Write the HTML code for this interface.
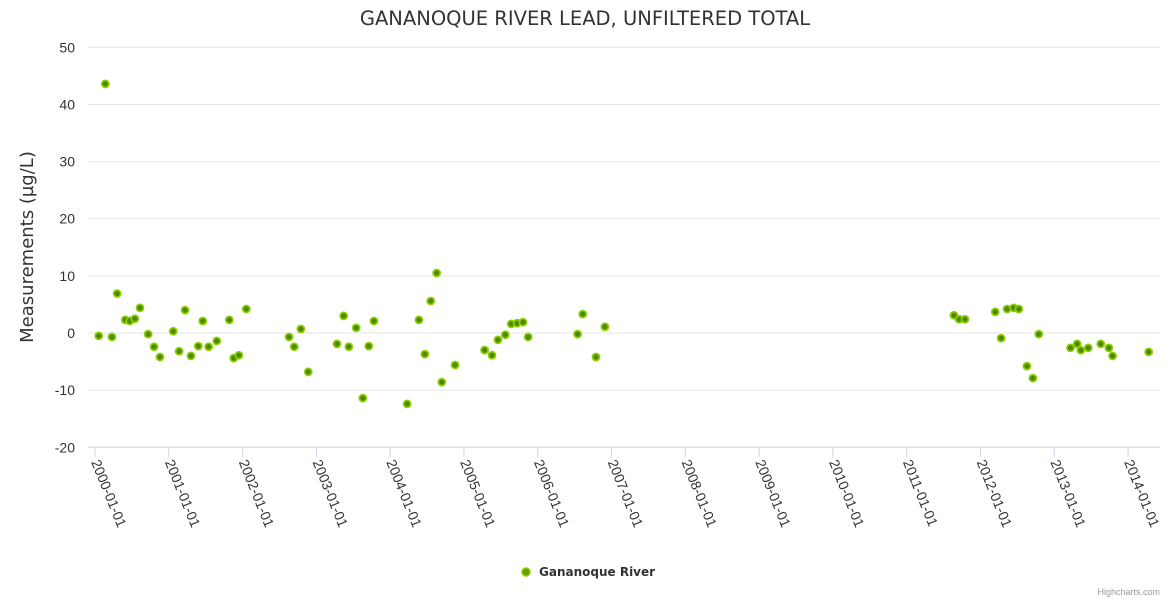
<!DOCTYPE html>
<html><head><meta charset="utf-8"><style>
html,body{margin:0;padding:0;background:#fff;}
svg{display:block;font-family:"Liberation Sans","DejaVu Sans",sans-serif;}
</style></head><body>
<svg id="chart" width="1170" height="600">
<text x="585" y="25" text-anchor="middle" font-size="19.5" fill="#333" style="font-family:'DejaVu Sans',sans-serif">GANANOQUE RIVER LEAD, UNFILTERED TOTAL</text>
<text transform="translate(33,247) rotate(-90)" text-anchor="middle" font-size="18" fill="#333" style="font-family:'DejaVu Sans',sans-serif">Measurements (µg/L)</text>
<g id="grid"></g><g id="xaxis"></g><g id="pts"></g>
<g>
<circle cx="526" cy="572" r="4" style="fill:#68a000;stroke:#8fcc00;stroke-width:1.5"></circle>
<text x="539" y="576" font-size="12" font-weight="bold" fill="#333" style="font-family:'DejaVu Sans',sans-serif">Gananoque River</text>
</g>
<text x="1160" y="595" text-anchor="end" font-size="9" fill="#999">Highcharts.com</text>
</svg>
<script>
const yTicks=[50,40,30,20,10,0,-10,-20];
const xTickYears=[2000,2001,2002,2003,2004,2005,2006,2007,2008,2009,2010,2011,2012,2013,2014];
const dates=[2000.05,2000.14,2000.23,2000.30,2000.41,2000.47,2000.54,2000.61,2000.72,2000.80,2000.88,2001.06,2001.14,2001.22,2001.30,2001.40,2001.46,2001.54,2001.65,2001.82,2001.88,2001.95,2002.05,2002.63,2002.70,2002.79,2002.89,2003.28,2003.37,2003.44,2003.54,2003.63,2003.71,2003.78,2004.23,2004.39,2004.47,2004.55,2004.63,2004.70,2004.88,2005.28,2005.38,2005.46,2005.56,2005.64,2005.72,2005.80,2005.87,2006.54,2006.61,2006.79,2006.91,2011.64,2011.71,2011.79,2012.20,2012.28,2012.36,2012.45,2012.52,2012.63,2012.71,2012.79,2013.22,2013.31,2013.36,2013.46,2013.63,2013.74,2013.79,2014.28];
const values=[-0.5,43.6,-0.7,6.9,2.3,2.1,2.5,4.4,-0.2,-2.4,-4.2,0.3,-3.2,4.0,-4.0,-2.3,2.1,-2.4,-1.4,2.3,-4.4,-3.9,4.2,-0.7,-2.4,0.7,-6.8,-1.9,3.0,-2.4,0.9,-11.4,-2.3,2.1,-12.4,2.3,-3.7,5.6,10.5,-8.6,-5.6,-3.0,-3.9,-1.2,-0.3,1.6,1.7,1.9,-0.7,-0.2,3.3,-4.2,1.1,3.1,2.4,2.4,3.7,-0.9,4.2,4.4,4.2,-5.8,-7.9,-0.2,-2.6,-1.9,-3.0,-2.6,-1.9,-2.6,-4.0,-3.3];
const NS='http://www.w3.org/2000/svg';
const xS=t=>95+(t-2000)*73.79;
const yS=v=>333-v*5.714;
function mk(tag,attrs,parent){const e=document.createElementNS(NS,tag);for(const k in attrs)e.setAttribute(k,attrs[k]);parent.appendChild(e);return e;}
const grid=document.getElementById('grid');
yTicks.forEach(v=>{
  const l=mk('line',{x1:88,x2:1160,y1:yS(v),y2:yS(v),stroke:v===-20?'#ccd6eb':'#e6e6e6','stroke-width':1},grid);
  
  
  const t=mk('text',{x:75,y:yS(v)+5,'text-anchor':'end','font-size':14,fill:'#333'},grid);
  t.textContent=v;
  
  
});
const xa=document.getElementById('xaxis');
xTickYears.forEach(y=>{
  const x=xS(y);
  const tk=mk('line',{x1:x,x2:x,y1:447,y2:457,stroke:'#ccd6eb'},xa);
  
  
  const t=mk('text',{transform:`translate(${x-4},${462}) rotate(68)`,'font-size':14,fill:'#333'},xa);
  t.textContent=y+'-01-01';
  
  
});
const pts=document.getElementById('pts');
dates.forEach((d,i)=>{
  const c=mk('circle',{cx:xS(d),cy:yS(values[i]),r:3.5,fill:'#4a8a00',stroke:'#8fcc00','stroke-width':1.8},pts);
  
  
});
</script>
</body></html>
